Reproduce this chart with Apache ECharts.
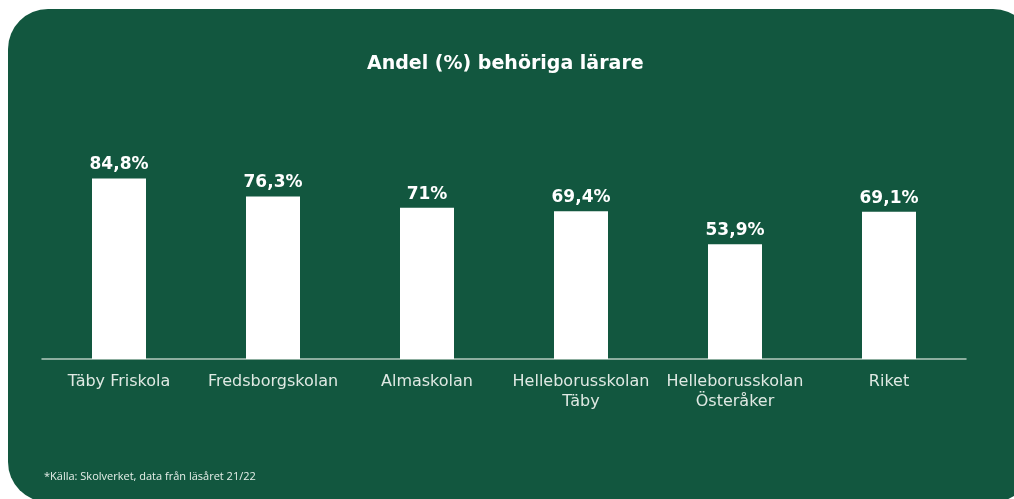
<!DOCTYPE html>
<html>
<head>
<meta charset="utf-8">
<script src="https://cdn.jsdelivr.net/npm/echarts@6/dist/echarts.min.js"></script>
<style>
  html, body { margin: 0; padding: 0; background: #ffffff; width: 1014px; height: 499px; overflow: hidden; }
  #chart { position: absolute; left: 8px; top: 9px; width: 1025px; height: 493px; border-radius: 40px; background: #12573f; overflow: hidden; }
</style>
</head>
<body>
<div id="chart"></div>
<script>
// 数据
const categories = ["Täby Friskola", "Fredsborgskolan", "Almaskolan", "Helleborusskolan\nTäby", "Helleborusskolan\nÖsteråker", "Riket"];
const values     = [84.8, 76.3, 71, 69.4, 53.9, 69.1];
const valueLabels = ["84,8%", "76,3%", "71%", "69,4%", "53,9%", "69,1%"];

let chart = echarts.init(document.querySelector('#chart'));
let option = {
    backgroundColor: 'transparent',
    title: [{
        text: 'Andel (%) behöriga lärare',
        left: 354,
        top: 41,
        textStyle: { color: '#ffffff', fontSize: 19, fontWeight: 'bold', fontFamily: 'DejaVu Sans' }
    }, {
        text: '*Källa: Skolverket, data från läsåret 21/22',
        left: 31,
        top: 457,
        textStyle: { color: '#e6efe9', fontSize: 11, fontWeight: 'normal', fontFamily: 'Open Sans' }
    }],
    grid: { left: 34, right: 67, top: 137, bottom: 143 },
    xAxis: {
        type: 'category',
        data: categories,
        axisLine: { lineStyle: { color: '#b5cbc0', width: 1.5 } },
        axisTick: { show: false },
        axisLabel: { color: '#dfe9e3', fontSize: 16, fontFamily: 'DejaVu Sans', margin: 13, lineHeight: 20, interval: 0 }
    },
    yAxis: {
        type: 'value',
        min: 0,
        max: 100,
        show: false,
        splitLine: { show: false }
    },
    series: [{
        type: 'bar',
        data: values,
        barWidth: 54,
        itemStyle: { color: '#ffffff' },
        label: {
            show: true,
            position: 'top',
            distance: 5,
            color: '#ffffff',
            fontSize: 17,
            fontWeight: 'bold',
            fontFamily: 'DejaVu Sans',
            formatter: (p) => valueLabels[p.dataIndex]
        }
    }]
};
chart.setOption(option);
</script>
</body>
</html>
